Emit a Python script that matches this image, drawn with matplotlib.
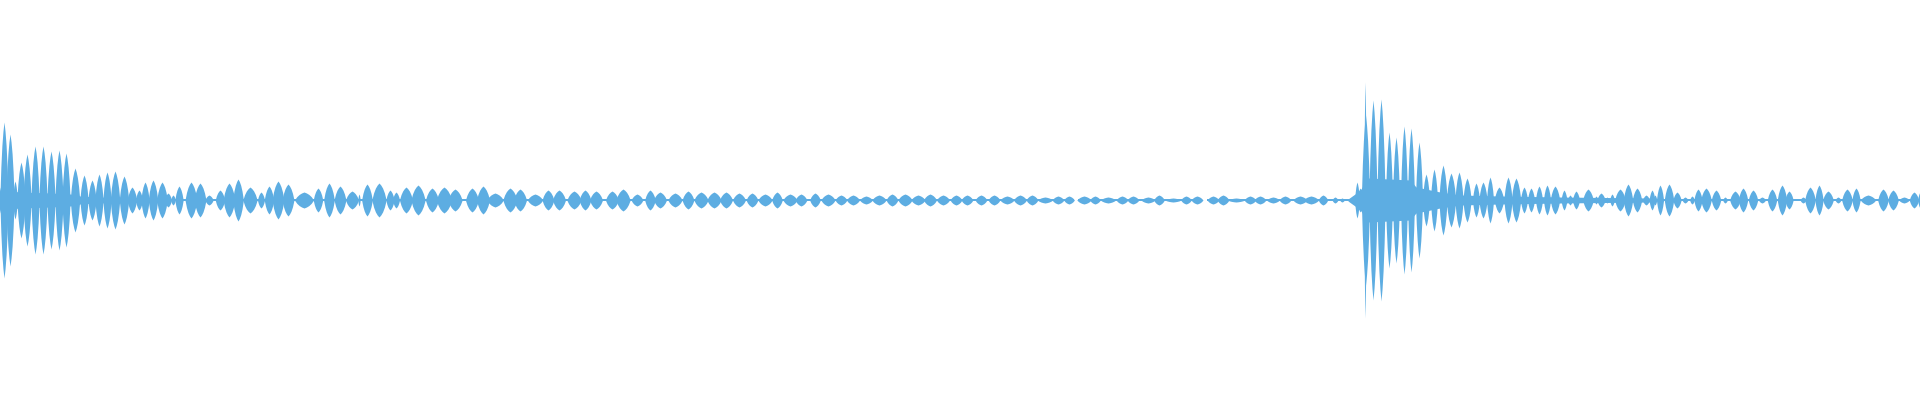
#! /usr/bin/env python3

import numpy as np
import matplotlib
matplotlib.use('Agg')
import matplotlib.pyplot as plt

# waveform read off the reference as a row of "blobs" (one per note/beat)
# x position, width and peak amplitude, all in sample-pixel units
blob_x = [0.5, 4, 10, 15, 21, 27, 35, 43, 51, 59, 66, 75, 84, 92, 99, 107, 115, 124, 132, 139, 145, 153,
          162, 168, 173, 179, 191, 200, 209, 220, 229, 238, 250, 261, 269, 278, 288, 304, 318,
          329, 340, 352, 359, 367, 379, 390, 396, 406, 418, 432, 444, 455, 472, 483, 495, 510, 520,
          535, 548, 559, 574, 585, 596, 612, 623, 637,
          650, 660, 675, 688, 701, 714, 726, 739, 752, 765, 777, 790, 801,
          815, 828, 841, 853, 866, 879, 892, 905, 918, 930, 943, 956,
          967, 981, 994, 1007, 1020, 1032, 1045, 1058, 1069, 1084, 1095, 1108, 1122, 1133,
          1148, 1159, 1173, 1186, 1197, 1213, 1223, 1236, 1250, 1260, 1273, 1285, 1300, 1311, 1323,
          1335, 1342, 1357, 1360, 1365, 1365.5, 1373, 1381, 1389, 1396, 1404, 1411, 1419, 1426, 1434,
          1443, 1451, 1459, 1467, 1476, 1483, 1490,
          1499, 1508, 1516, 1524, 1531, 1539, 1547, 1555, 1564, 1570, 1576, 1584, 1588, 1596, 1601,
          1607, 1612, 1620, 1628, 1637, 1646,
          1652, 1655, 1660, 1669, 1677, 1685, 1692, 1698, 1706, 1716, 1725, 1735, 1743, 1753, 1762,
          1772, 1782, 1789, 1803, 1810, 1819, 1828, 1838, 1847, 1856, 1868, 1883, 1893, 1904, 1914, 1920]
blob_w = [3, 7, 7, 4, 7, 7, 7, 7, 7, 7, 7, 8, 7, 7, 7, 7, 8, 8, 8, 6, 7, 8,
          9, 6, 4, 7, 10, 10, 7, 8, 10, 9, 12, 6, 8, 10, 10, 16, 8,
          9, 10, 11, 2, 9, 12, 7, 6, 11, 12, 11, 13, 12, 11, 11, 14, 12, 11,
          13, 10, 11, 12, 10, 11, 11, 12, 10,
          9, 11, 12, 10, 12, 12, 11, 11, 10, 12, 9, 12, 10,
          9, 12, 10, 11, 11, 12, 10, 12, 12, 11, 11, 10,
          10, 10, 10, 12, 11, 10, 13, 10, 9, 12, 9, 13, 10, 10,
          12, 9, 14, 9, 10, 10, 10, 15, 10, 10, 11, 10, 12, 13, 8,
          5, 4, 4, 5, 2, 7, 7, 7, 6, 6, 6, 6, 6, 6, 6,
          7, 8, 7, 7, 6, 7, 6,
          8, 7, 8, 6, 6, 6, 6, 8, 5, 4, 6, 4, 9, 3, 7,
          3, 4, 9, 8, 8, 6,
          5, 3, 6, 8, 7, 5, 4, 7, 9, 8, 4, 9, 8, 8, 6,
          8, 8, 7, 5, 9, 7, 9, 5, 9, 7, 13, 9, 9, 9, 8, 4]
blob_amp = [13, 78, 66, 19, 38, 46, 54, 54, 49, 50, 47, 32, 25, 20, 26, 28, 29, 24, 13, 10, 18, 20,
            18, 7, 5, 14, 18, 17, 5, 10, 17, 21, 13, 8, 14, 19, 16, 8, 12,
            17, 14, 9, 6, 16, 17, 10, 8, 13, 15, 12, 13, 11, 12, 14, 7, 12, 11,
            6, 10, 10, 9, 10, 9, 9, 11, 6,
            10, 8, 7, 9, 8, 8, 8, 7, 7, 6, 8, 6, 6,
            7, 6, 5, 5, 4, 5, 6, 6, 5, 6, 5, 5,
            5, 5, 5, 4, 5, 5, 3, 4, 4, 4, 4, 3, 4, 4,
            3, 5, 2, 4, 4, 4, 5, 2, 4, 4, 3, 4, 4, 4, 5,
            3, 2, 18, 12, 118, 85, 100, 101, 68, 63, 74, 72, 58, 26, 31,
            35, 27, 28, 22, 17, 18, 23,
            13, 23, 22, 13, 12, 14, 15, 14, 10, 5, 9, 3, 11, 4, 7,
            3, 6, 11, 16, 12, 5,
            10, 5, 15, 16, 8, 3, 4, 11, 12, 10, 3, 9, 12, 10, 3,
            11, 15, 9, 3, 13, 15, 9, 3, 11, 12, 5, 11, 10, 3, 8, 8]

# low "body" under the two attacks
floor1_x = [0, 20, 50, 70, 80, 95, 165]
floor1_amp = [10, 8, 7, 6, 4, 3, 2]
floor2_x = [1348, 1355, 1361, 1368, 1410, 1416, 1440, 1460, 1500, 1560, 1650]
floor2_amp = [1, 6, 11, 22, 20, 13, 8, 5, 4, 3, 2]

# thin zero line, with the two short silent gaps
line_start = [0, 1078, 1207]
line_end = [1074, 1202, 1920]

color = '#5dade2'

# rounded, slightly pointed outline used for every blob
lens_dx = np.array([-0.6, -0.45, -0.3, -0.15, 0, 0.15, 0.3, 0.45, 0.6])
lens_dy = np.array([0, 0.42, 0.7, 0.88, 1, 0.88, 0.7, 0.42, 0])

fig = plt.figure(figsize=(19.2, 4), dpi=100)
ax = fig.add_axes([0, 0, 1, 1])

for s, e in zip(line_start, line_end):
    ax.fill_between([s, e], [-1, -1], [1, 1], color=color, lw=0)

ax.fill_between(floor1_x, -np.array(floor1_amp), floor1_amp, color=color, lw=0)
ax.fill_between(floor2_x, -np.array(floor2_amp), floor2_amp, color=color, lw=0)

for c, w, a in zip(blob_x, blob_w, blob_amp):
    ax.fill_between(c + lens_dx * w, -lens_dy * a, lens_dy * a, color=color, lw=0)

ax.set_xlim(0, 1920)
ax.set_ylim(-200, 200)
ax.axis('off')

fig.savefig('out.png', dpi=100, facecolor='white')
